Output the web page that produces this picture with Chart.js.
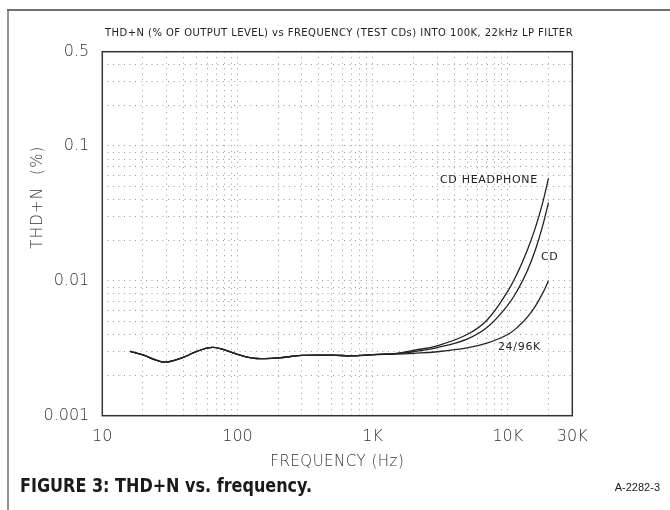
<!DOCTYPE html>
<html>
<head>
<meta charset="utf-8">
<title>THD+N vs. frequency</title>
<script src="https://cdn.jsdelivr.net/npm/chart.js@4/dist/chart.umd.min.js"></script>
<style>
  html, body { margin: 0; padding: 0; background: #ffffff; }
  #wrap { position: relative; width: 670px; height: 510px; }
  canvas { display: block; }
</style>
</head>
<body>
<div id="wrap"><canvas id="thd" width="670" height="510"></canvas></div>
<script>
// Measurement frequencies (Hz)
const freqHz = [16, 20, 25, 30, 40, 50, 65, 80, 100, 130, 160, 200, 300, 500, 700,
                1000, 1500, 2000, 3000, 5000, 7000, 10000, 12000, 14000, 16000, 18000, 20000];

// THD+N in percent of output level, one list per source
const cdHeadphone = [0.0030, 0.00282, 0.00258, 0.00250, 0.00272, 0.00300, 0.00321, 0.00308, 0.00285, 0.00267, 0.00265, 0.00268, 0.00280, 0.00281, 0.00278,
                     0.00284, 0.00290, 0.00305, 0.00330, 0.00400, 0.00510, 0.00840, 0.01190, 0.01710, 0.02480, 0.03700, 0.05750];
const cdPlayback  = [0.0030, 0.00282, 0.00258, 0.00250, 0.00272, 0.00300, 0.00321, 0.00308, 0.00285, 0.00267, 0.00265, 0.00268, 0.00280, 0.00281, 0.00278,
                     0.00284, 0.00289, 0.00298, 0.00320, 0.00370, 0.00450, 0.00660, 0.00880, 0.01200, 0.01700, 0.02500, 0.03800];
const hiRes2496   = [0.0030, 0.00282, 0.00258, 0.00250, 0.00272, 0.00300, 0.00321, 0.00308, 0.00285, 0.00267, 0.00265, 0.00268, 0.00280, 0.00281, 0.00278,
                     0.00283, 0.00286, 0.00290, 0.00298, 0.00318, 0.00345, 0.00400, 0.00460, 0.00540, 0.00650, 0.00800, 0.01000];

// Axis tick values (grid) and the labelled ones
const xGridTicks = [10, 20, 30, 40, 50, 60, 70, 80, 90,
                    100, 200, 300, 400, 500, 600, 700, 800, 900,
                    1000, 2000, 3000, 4000, 5000, 6000, 7000, 8000, 9000,
                    10000, 20000, 30000];
const xLabelValues = [10, 100, 1000, 10000, 30000];
const xLabelTexts  = ['10', '100', '1K', '10K', '30K'];

const yGridTicks = [0.001, 0.002, 0.003, 0.004, 0.005, 0.006, 0.007, 0.008, 0.009,
                    0.01, 0.02, 0.03, 0.04, 0.05, 0.06, 0.07, 0.08, 0.09,
                    0.1, 0.2, 0.3, 0.4, 0.5];
const yLabelValues = [0.001, 0.01, 0.1, 0.5];
const yLabelTexts  = ['0.001', '0.01', '0.1', '0.5'];

// Curve names written next to the traces: [text, frequency, value, alignment]
const curveNotes = [
  ['CD HEADPHONE', 16700, 0.056, 'right'],
  ['CD', 17600, 0.015, 'left'],
  ['24/96K', 8450, 0.00324, 'left']
];

const TITLE = 'THD+N (% OF OUTPUT LEVEL) vs FREQUENCY (TEST CDs) INTO 100K, 22kHz LP FILTER';
const X_TITLE = 'FREQUENCY (Hz)';
const Y_TITLE = 'THD+N  (%)';
const CAPTION = 'FIGURE 3: THD+N vs. frequency.';
const FIG_ID = 'A-2282-3';

function labelFor(value, values, texts) {
  for (let i = 0; i < values.length; i++) {
    if (Math.abs(value / values[i] - 1) < 1e-6) return texts[i];
  }
  return '';
}

function toPoints(ys) {
  return freqHz.map((f, i) => ({ x: f, y: ys[i] }));
}

const INK = '#222222';
const tickFont = { family: '"DejaVu Sans", sans-serif', size: 16, weight: 300 };

const lineStyle = {
  borderColor: INK,
  borderWidth: 1.3,
  pointRadius: 0,
  fill: false,
  tension: 0.4
};

// draw text squeezed horizontally to a given width
function fillFitted(ctx, text, x, y, width) {
  const w = ctx.measureText(text).width;
  ctx.save();
  ctx.translate(x, y);
  ctx.scale(Math.min(1, width / w), 1);
  ctx.fillText(text, 0, 0);
  ctx.restore();
}

const decorations = {
  id: 'decorations',
  beforeDatasetsDraw(chart) {
    const { ctx, chartArea: a } = chart;
    ctx.save();
    // plot frame
    ctx.strokeStyle = '#333333';
    ctx.lineWidth = 1.5;
    ctx.strokeRect(a.left, a.top, a.right - a.left, a.bottom - a.top);
    ctx.restore();
  },
  afterDraw(chart) {
    const { ctx, chartArea: a, scales } = chart;
    ctx.save();

    // figure frame (top and left rules)
    ctx.strokeStyle = '#6e6e6e';
    ctx.lineWidth = 2;
    ctx.beginPath();
    ctx.moveTo(7, 10);
    ctx.lineTo(670, 10);
    ctx.stroke();
    ctx.lineWidth = 1.5;
    ctx.beginPath();
    ctx.moveTo(8, 10);
    ctx.lineTo(8, 510);
    ctx.stroke();

    ctx.fillStyle = INK;
    ctx.textBaseline = 'middle';

    // plot heading
    ctx.font = '10px "DejaVu Sans", sans-serif';
    ctx.letterSpacing = '0.45px';
    ctx.textAlign = 'left';
    ctx.fillText(TITLE, 105, 33);

    // axis titles
    ctx.font = '300 15px "DejaVu Sans", sans-serif';
    ctx.letterSpacing = '0.5px';
    ctx.fillStyle = '#333333';
    ctx.textAlign = 'center';
    ctx.fillText(X_TITLE, (a.left + a.right) / 2, 462);
    ctx.save();
    ctx.translate(38, 197);
    ctx.rotate(-Math.PI / 2);
    ctx.letterSpacing = '1.2px';
    ctx.fillText(Y_TITLE, 0, 0);
    ctx.restore();

    // curve names
    ctx.fillStyle = INK;
    ctx.font = '11px "DejaVu Sans", sans-serif';
    ctx.letterSpacing = '0.7px';
    curveNotes.forEach(([text, f, v, align]) => {
      ctx.textAlign = align;
      ctx.fillText(text, scales.x.getPixelForValue(f), scales.y.getPixelForValue(v));
    });
    ctx.letterSpacing = '0px';

    // caption
    ctx.fillStyle = '#1a1a1a';
    ctx.textAlign = 'left';
    ctx.font = 'bold 20px "DejaVu Sans Condensed", "DejaVu Sans", sans-serif';
    fillFitted(ctx, CAPTION, 20, 487, 292);
    ctx.font = '11px "Liberation Sans", Arial, sans-serif';
    ctx.textAlign = 'right';
    ctx.fillText(FIG_ID, 660, 488);

    ctx.restore();
  }
};

new Chart(document.getElementById('thd'), {
  type: 'line',
  data: {
    datasets: [
      Object.assign({ label: 'CD HEADPHONE', data: toPoints(cdHeadphone) }, lineStyle),
      Object.assign({ label: 'CD', data: toPoints(cdPlayback) }, lineStyle),
      Object.assign({ label: '24/96K', data: toPoints(hiRes2496) }, lineStyle)
    ]
  },
  options: {
    responsive: false,
    animation: false,
    layout: { padding: { left: 0, right: 97.7, top: 51.7, bottom: 0 } },
    plugins: {
      legend: { display: false },
      tooltip: { enabled: false },
      title: { display: false }
    },
    scales: {
      x: {
        type: 'logarithmic',
        min: 10,
        max: 30000,
        afterBuildTicks(scale) { scale.ticks = xGridTicks.map(v => ({ value: v })); },
        afterFit(scale) { scale.height = 510 - 415.7; },
        ticks: {
          autoSkip: false,
          maxRotation: 0,
          padding: 12,
          color: '#333333',
          font: tickFont,
          callback: (v) => labelFor(v, xLabelValues, xLabelTexts)
        },
        grid: { color: '#999999', lineWidth: 1, drawTicks: false },
        border: { display: false, dash: [1, 4.5] }
      },
      y: {
        type: 'logarithmic',
        min: 0.001,
        max: 0.5,
        afterBuildTicks(scale) { scale.ticks = yGridTicks.map(v => ({ value: v })); },
        afterFit(scale) { scale.width = 102.3; },
        ticks: {
          autoSkip: false,
          padding: 13,
          color: '#333333',
          font: tickFont,
          callback: (v) => labelFor(v, yLabelValues, yLabelTexts)
        },
        grid: { color: '#999999', lineWidth: 1, drawTicks: false },
        border: { display: false, dash: [1, 4.5] }
      }
    }
  },
  plugins: [decorations]
});
</script>
</body>
</html>
